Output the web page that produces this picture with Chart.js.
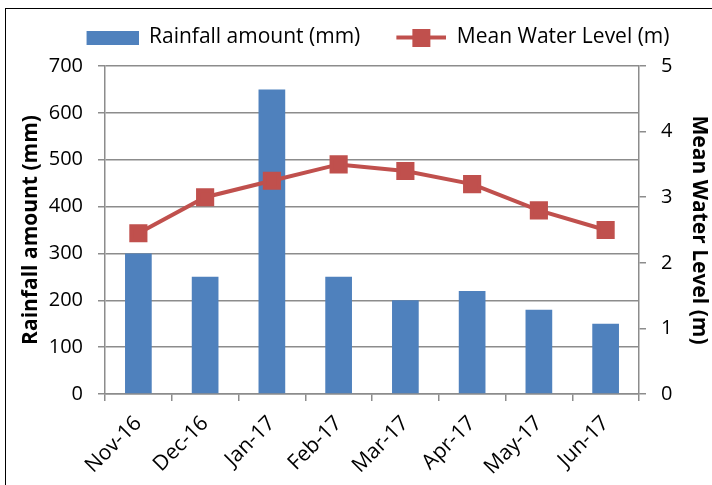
<!DOCTYPE html>
<html>
<head>
<meta charset="utf-8">
<script src="https://cdn.jsdelivr.net/npm/chart.js@4"></script>
<style>
  html, body { margin: 0; padding: 0; background: #fff; }
  #wrap { position: relative; width: 712px; height: 485px; overflow: hidden; }
  #frame { position: absolute; left: 5px; top: 8px; width: 720px; height: 490px; border: 1.5px solid #000; box-sizing: border-box; }
  canvas { position: absolute; left: 0; top: 0; }
</style>
</head>
<body>
<div id="wrap">
  <div id="frame"></div>
  <canvas id="myChart" width="712" height="485"></canvas>
</div>
<script>
const labels = ["Nov-16", "Dec-16", "Jan-17", "Feb-17", "Mar-17", "Apr-17", "May-17", "Jun-17"];
const rainfall = [300, 250, 650, 250, 200, 220, 180, 150];
const waterLevel = [2.45, 3.0, 3.25, 3.5, 3.4, 3.2, 2.8, 2.5];

const blue = "#4F81BD";
const red = "#C0504D";
const gridColor = "#8C8C8C";
const fontFam = "'Open Sans', sans-serif";

// legend swatches (left part left empty as a gap between items)
function barSwatch() {
  const c = document.createElement("canvas");
  c.width = 78; c.height = 14;
  const g = c.getContext("2d");
  g.fillStyle = blue;
  g.fillRect(26, 0, 52, 14);
  return c;
}
function lineSwatch() {
  const c = document.createElement("canvas");
  c.width = 78; c.height = 18;
  const g = c.getContext("2d");
  g.strokeStyle = red; g.lineWidth = 4;
  g.beginPath(); g.moveTo(28, 9); g.lineTo(78, 9); g.stroke();
  g.fillStyle = red;
  g.fillRect(44, 0, 18, 18);
  return c;
}

// adjust the room below the legend
const legendSpace = {
  id: "legendSpace",
  afterInit(chart) {
    const fit = chart.legend.fit;
    chart.legend.fit = function () {
      fit.call(this);
      this.height += 8;
    };
  },
};

const ctx = document.getElementById("myChart").getContext("2d");

const config = {
  data: {
    labels,
    datasets: [
      {
        type: "bar",
        label: "Rainfall amount (mm)",
        data: rainfall,
        backgroundColor: blue,
        barPercentage: 0.4,
        categoryPercentage: 1,
        yAxisID: "y",
        order: 2,
      },
      {
        type: "line",
        label: "Mean Water Level (m)",
        data: waterLevel,
        borderColor: red,
        backgroundColor: red,
        borderWidth: 4,
        pointStyle: "rect",
        pointRadius: 10,
        pointHoverRadius: 10,
        yAxisID: "y1",
        order: 1,
      },
    ],
  },
  options: {
    responsive: false,
    animation: false,
    layout: { padding: { left: 18, right: 0, top: 19, bottom: 0 } },
    plugins: {
      tooltip: { enabled: false },
      legend: {
        labels: {
          color: "#000",
          font: { family: fontFam, size: 21 },
          usePointStyle: true,
          pointStyleWidth: 78,
          padding: 8,
          generateLabels: (chart) => [
            { text: "Rainfall amount (mm)", pointStyle: barSwatch(), datasetIndex: 0, fillStyle: blue, strokeStyle: blue, lineWidth: 0 },
            { text: "Mean Water Level (m)", pointStyle: lineSwatch(), datasetIndex: 1, fillStyle: red, strokeStyle: red, lineWidth: 0 },
          ],
        },
      },
    },
    scales: {
      x: {
        offset: true,
        grid: { offset: true, drawOnChartArea: false, color: gridColor, tickLength: 7, lineWidth: 1.5 },
        border: { color: gridColor, width: 1.5 },
        ticks: { color: "#000", font: { family: fontFam, size: 21 }, maxRotation: 45, minRotation: 45, padding: 10 },
        afterFit: (s) => { s.height = 91; },
      },
      y: {
        position: "left",
        min: 0, max: 700,
        ticks: { stepSize: 100, color: "#000", font: { family: fontFam, size: 20 }, padding: 15 },
        grid: { color: gridColor, tickLength: 7, lineWidth: 1.5 },
        border: { color: gridColor, width: 1.5 },
        title: { display: true, text: "Rainfall amount (mm)", color: "#000", font: { family: fontFam, size: 21, weight: "bold" }, padding: 0 },
        afterFit: (s) => { s.width = 87; },
      },
      y1: {
        position: "right",
        min: 0, max: 5,
        ticks: { stepSize: 1, color: "#000", font: { family: fontFam, size: 20 }, padding: 15 },
        grid: { drawOnChartArea: false, color: gridColor, tickLength: 7, lineWidth: 1.5 },
        border: { color: gridColor, width: 1.5 },
        title: { display: true, text: "Mean Water Level (m)", color: "#000", font: { family: fontFam, size: 21, weight: "bold" }, padding: 0 },
        afterFit: (s) => { s.width = 73; },
      },
    },
  },
  plugins: [legendSpace],
};
const myChart = new Chart(ctx, config);
</script>
</body>
</html>
